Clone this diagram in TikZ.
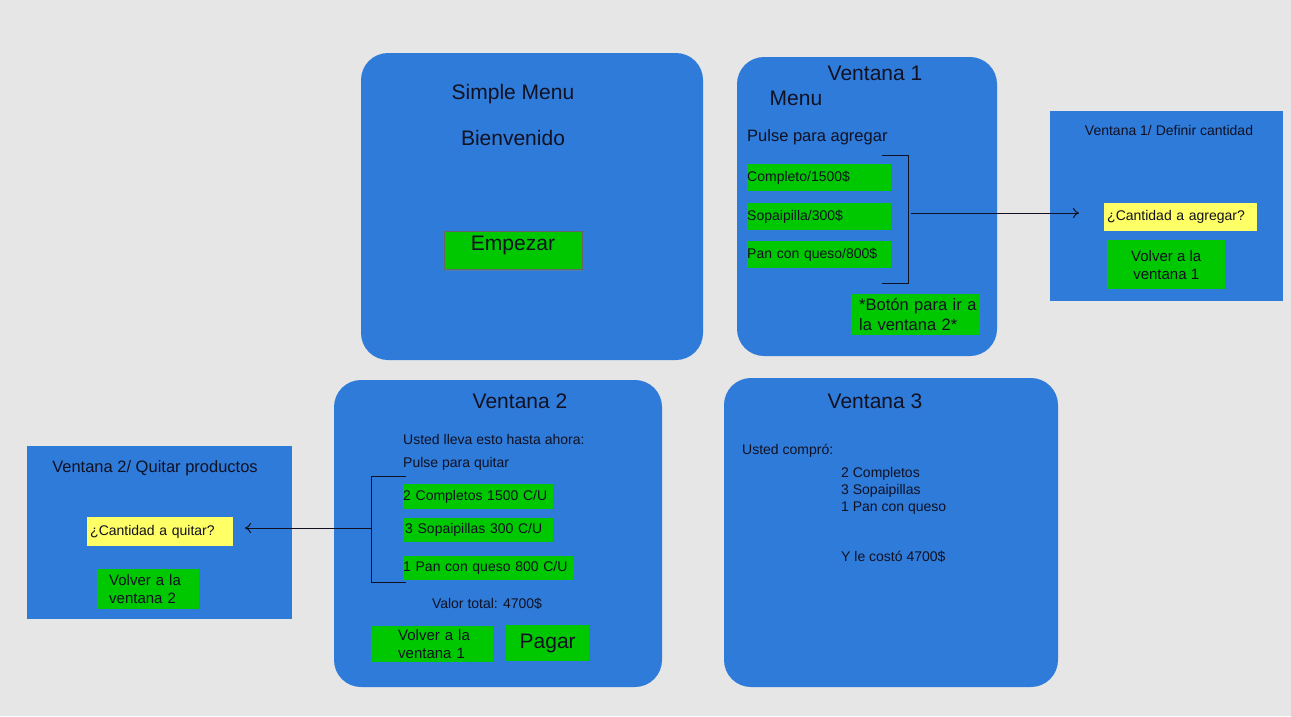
\documentclass[tikz,border=0pt]{standalone}
\usepackage{fontspec}
\setmainfont{Liberation Sans}
\usepackage{tikz}
\usetikzlibrary{arrows.meta, positioning, shadows}

\definecolor{fondo}{HTML}{E6E6E6}
\definecolor{azul}{HTML}{2E7BDA}
\definecolor{verde}{HTML}{00C800}
\definecolor{amarillo}{HTML}{FFFF66}
\definecolor{tinta}{HTML}{111122}

\begin{document}
\begin{tikzpicture}[
        x=1pt, y=-1pt,
        >={To[length=6pt, width=10pt]},
        win/.style={fill=azul, rounded corners=27pt},
        sub/.style={fill=azul},
        gbtn/.style={fill=verde, inner sep=0pt, text=tinta},
        ybox/.style={fill=amarillo, inner sep=0pt, text=tinta},
        txt/.style={inner sep=0pt, text=tinta},
        big/.style={font=\fontsize{21}{25}\selectfont},
        mid/.style={font=\fontsize{16.5}{20}\selectfont},
        sml/.style={font=\fontsize{15}{18}\selectfont},
        tny/.style={font=\fontsize{14}{17}\selectfont},
        lnk/.style={line width=1pt, draw=tinta}
    ]
        % fondo
        \fill[fondo] (0,0) rectangle (1291,716);
        \useasboundingbox (0,0) rectangle (1291,716);

        % ventanas
        \fill[win] (361,53) rectangle (703,360);
        \fill[win] (737,57) rectangle (997,356);
        \fill[sub] (1050,111) rectangle (1283,301);
        \fill[win] (334,380) rectangle (662,687);
        \fill[sub] (27,446) rectangle (292,619);
        \fill[win] (724,378) rectangle (1058,687);

        % Simple Menu
        \node[txt, big] (t0) at (513,94) {Simple Menu};
        \node[txt, big] (bien) at (513,138) {Bienvenido};
        \node[gbtn, big, minimum width=138, minimum height=38, draw=black!60, line width=0.6pt,
              drop shadow={opacity=0.45, shadow xshift=1pt, shadow yshift=-2pt}] (empezar) at (513,250) {};
        \node[txt, big] at (513,245) {Empezar};

        % Ventana 1
        \node[txt, big] (t1) at (875,73) {Ventana 1};
        \node[txt, big] (menu) at (796,98) {Menu};
        \node[txt, mid, anchor=west] (pulse1) at (747,137) {Pulse para agregar};
        \node[gbtn, tny, anchor=north west, text width=144pt, minimum height=27, align=left] (p1) at (747,164) {Completo/1500\$};
        \node[gbtn, tny, anchor=north west, text width=144pt, minimum height=27, align=left] (p2) at (747,203) {Sopaipilla/300\$};
        \node[gbtn, tny, anchor=north west, text width=144pt, minimum height=27, align=left] (p3) at (747,241) {Pan con queso/800\$};
        \node[gbtn, mid, anchor=north west, minimum height=41, text width=129pt,
              align=left] (ir2) at (851,294) {\hspace*{8pt}*Botón para ir a\\\hspace*{8pt}la ventana 2*};

        % llave de Ventana 1
        \coordinate (k1a) at (882,155);
        \coordinate (k1b) at (908,155);
        \coordinate (k1c) at (908,283);
        \coordinate (k1d) at (882,283);
        \coordinate (k1m) at (911,213);
        \coordinate (k1e) at (1079,213);
        \draw[lnk] (k1a) -- (k1b) -- (k1c) -- (k1d);
        \draw[lnk, ->] (k1m) -- (k1e);

        % Ventana 1/ Definir cantidad
        \node[txt, tny] (t1b) at (1169,130) {Ventana 1/ Definir cantidad};
        \node[ybox, tny, anchor=north west, text width=147pt, minimum height=28, inner xsep=3pt, align=left] (cant1) at (1104,203) {¿Cantidad a agregar?};
        \node[gbtn, sml, anchor=north west, minimum width=118, minimum height=49, align=center] (volver1) at (1107,240) {Volver a la\\ventana 1};

        % Ventana 2
        \node[txt, big] (t2) at (520,401) {Ventana 2};
        \node[txt, tny, anchor=west] (lleva) at (403,439) {Usted lleva esto hasta ahora:};
        \node[txt, tny, anchor=west] (pulse2) at (403,464) {Pulse para quitar};
        \node[gbtn, tny, anchor=north west, text width=150pt, minimum height=25, align=left] (q1) at (403,484) {2 Completos 1500 C/U};
        \node[gbtn, tny, anchor=north west, text width=146pt, minimum height=24, inner xsep=2pt, align=left] (q2) at (403,518) {3 Sopaipillas 300 C/U};
        \node[gbtn, tny, anchor=north west, text width=171pt, minimum height=24, align=left] (q3) at (403,556) {1 Pan con queso 800 C/U};
        \node[txt, tny] (total) at (487,604) {Valor total: 4700\$};
        \node[gbtn, sml, anchor=north west, minimum width=122, minimum height=36, text width=122pt,
              align=left] (volver2) at (371,626) {\hspace*{27pt}Volver a la\\\hspace*{27pt}ventana 1};
        \node[gbtn, big, anchor=north west, minimum width=83, minimum height=36] (pagar) at (506,625) {Pagar};

        % llave de Ventana 2
        \coordinate (k2a) at (406,476);
        \coordinate (k2b) at (371,476);
        \coordinate (k2c) at (371,582);
        \coordinate (k2d) at (406,582);
        \coordinate (k2m) at (371,528);
        \coordinate (k2e) at (245,528);
        \draw[lnk] (k2a) -- (k2b) -- (k2c) -- (k2d);
        \draw[lnk, ->] (k2m) -- (k2e);

        % Ventana 2/ Quitar productos
        \node[txt, mid] (t2b) at (155,468) {Ventana 2/ Quitar productos};
        \node[ybox, tny, anchor=north west, text width=140pt, minimum height=29, inner xsep=3pt, align=left] (cant2) at (87,517) {¿Cantidad a quitar?};
        \node[gbtn, sml, anchor=north west, minimum width=102, minimum height=40, text width=102pt,
              align=left] (volver3) at (97,569) {\hspace*{12pt}Volver a la\\\hspace*{12pt}ventana 2};

        % Ventana 3
        \node[txt, big] (t3) at (875,401) {Ventana 3};
        \node[txt, tny, anchor=west] (compro) at (742,451) {Usted compró:};
        \node[txt, tny, anchor=north west, align=left] (lista) at (841,467) {2 Completos\\3 Sopaipillas\\1 Pan con queso};
        \node[txt, tny, anchor=west] (costo) at (841,557) {Y le costó 4700\$};
    \end{tikzpicture}
\end{document}
